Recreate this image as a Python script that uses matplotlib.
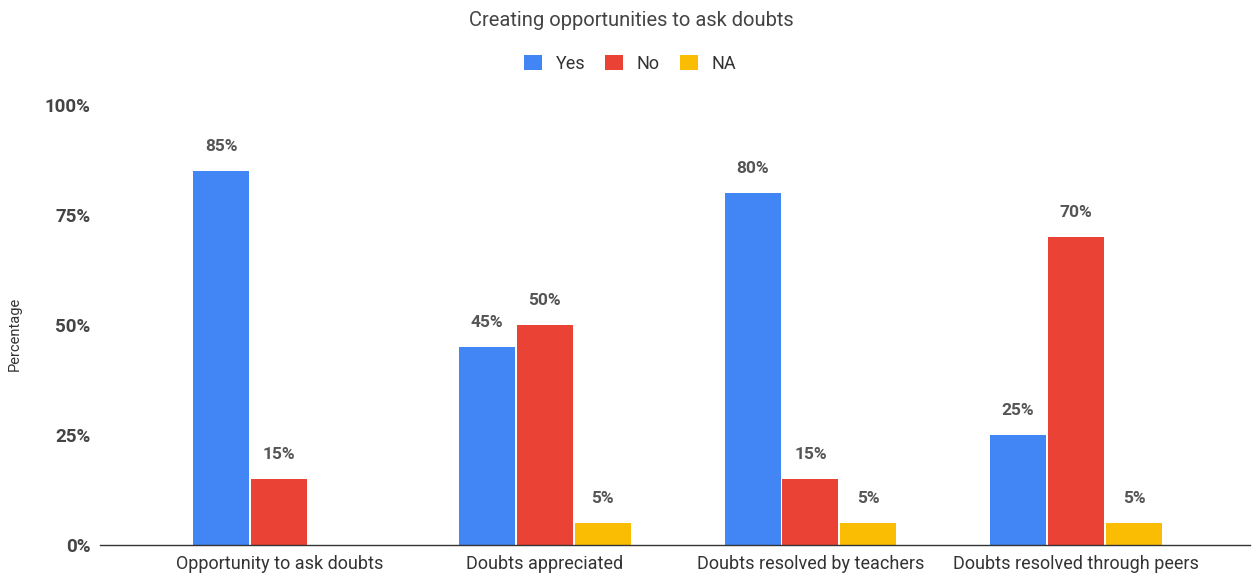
import matplotlib.pyplot as plt
import numpy as np

plt.rcParams['font.family'] = ['Roboto', 'DejaVu Sans']

categories = ["Opportunity to ask doubts", "Doubts appreciated",
              "Doubts resolved by teachers", "Doubts resolved through peers"]
yes = [85, 45, 80, 25]
no = [15, 50, 15, 70]
na = [0, 5, 5, 5]

series = [("Yes", yes, "#4285F4"), ("No", no, "#EA4335"), ("NA", na, "#FBBC04")]

fig = plt.figure(figsize=(12.53, 5.74), dpi=100)
ax = fig.add_axes([100 / 1253, 29 / 574, 1150 / 1253, 440 / 574])

x = np.arange(len(categories))
width = 0.211
step = 0.218
for k, (name, vals, color) in enumerate(series):
    pos = x + (k - 1) * step
    ax.bar(pos, vals, width, color=color, label=name, zorder=2)
    for p, v in zip(pos, vals):
        if v == 0:
            continue
        ax.annotate(f"{v}%", (p, v), xytext=(0, 17.5), textcoords="offset points",
                    ha="center", va="center", fontsize=12.5, fontweight="bold",
                    color="#555555")

ax.set_xlim(-0.675, 3.655)
ax.set_ylim(0, 100)
ax.set_yticks([0, 25, 50, 75, 100])
ax.set_yticklabels([f"{t}%" for t in [0, 25, 50, 75, 100]],
                   fontsize=13.5, fontweight="bold", color="#444444")
ax.set_xticks(x)
ax.set_xticklabels(categories, fontsize=13, color="#333333")
ax.tick_params(axis="x", length=0, pad=7)
ax.tick_params(axis="y", length=0, pad=7)

for s in ["top", "right", "left"]:
    ax.spines[s].set_visible(False)
ax.spines["bottom"].set_color("#333333")
ax.spines["bottom"].set_linewidth(1)

fig.text(15 / 1253, 1 - 334 / 574, "Percentage", rotation=90, ha="center",
         va="center", fontsize=10.5, color="#333333")
fig.text(631 / 1253, 1 - 21 / 574, "Creating opportunities to ask doubts",
         ha="center", va="center", fontsize=14.5, color="#444444")

fig.legend(loc="center", bbox_to_anchor=(630 / 1253, 1 - 64 / 574), ncol=3,
           frameon=False, fontsize=13, handlelength=1.0, handleheight=0.9,
           columnspacing=1.1, handletextpad=0.75, labelcolor="#333333")

fig.savefig("out.png", dpi=100)
